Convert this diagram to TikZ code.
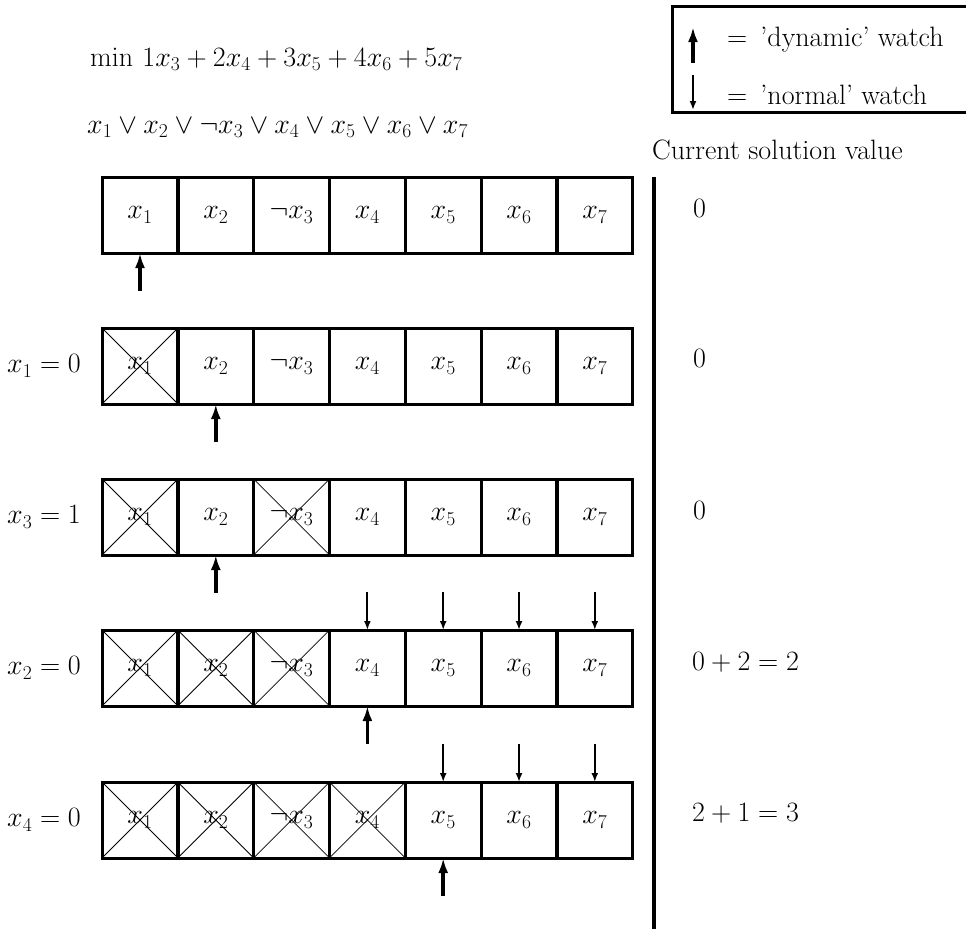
\RequirePackage{fix-cm}
\documentclass[tikz,border=0pt]{standalone}
\usetikzlibrary{arrows.meta}

% one row of seven literal cells; #1 row name, #2 top edge, #3-#9 cell styles
\newcommand\cellrow[9]{%
  \node[#3] (#1c1) at (102,#2) {$x_1$};
  \node[#4] (#1c2) at (177.8,#2) {$x_2$};
  \node[#5] (#1c3) at (253.6,#2) {$\neg x_3$};
  \node[#6] (#1c4) at (329.4,#2) {$x_4$};
  \node[#7] (#1c5) at (405.2,#2) {$x_5$};
  \node[#8] (#1c6) at (481,#2) {$x_6$};
  \node[#9] (#1c7) at (556.8,#2) {$x_7$};
}

\begin{document}
\begin{tikzpicture}[x=1pt,y=-1pt,
  every node/.style={font=\fontsize{28}{33}\selectfont, inner sep=0pt},
  cell/.style={draw, line width=3pt, outer sep=0pt, minimum width=76pt, minimum height=76pt, anchor=north west},
  crossed/.style={cell, path picture={
      \draw[line width=0.8pt]
        (path picture bounding box.north west) -- (path picture bounding box.south east)
        (path picture bounding box.north east) -- (path picture bounding box.south west);}},
  dyn/.style={line width=3.5pt, -{Latex[length=15pt,width=10pt]}},
  nrm/.style={line width=2pt, -{Latex[length=9pt,width=7pt]}},
  lbl/.style={anchor=east},
  val/.style={anchor=west},
]
\useasboundingbox (0,0) rectangle (966,929);

% objective and clause
\node[anchor=west] (obj) at (90,59) {$\min\, 1x_3 + 2x_4 + 3x_5 + 4x_6 + 5x_7$};
\node[anchor=west] (cl) at (87,128) {$x_1 \vee x_2 \vee \neg x_3 \vee x_4 \vee x_5 \vee x_6 \vee x_7$};

% legend
\node[draw, line width=3pt, outer sep=0pt, anchor=north west, minimum width=300pt, minimum height=106pt] (legend) at (672,6) {};
\coordinate (lu0) at (693,63);
\coordinate (lu1) at (693,27);
\coordinate (ld0) at (693,75);
\coordinate (ld1) at (693,110);
\draw[dyn] (lu0) -- (lu1);
\draw[nrm] (ld0) -- (ld1);
\node[anchor=west] (ldyn) at (727,40) {$=$ \,'dynamic' watch};
\node[anchor=west] (lnrm) at (727,95) {$=$ \,'normal' watch};

% solution value column
\node[anchor=west] (cur) at (652,150) {Current solution value};
\coordinate (vt) at (654,177);
\coordinate (vb) at (654,929);
\draw[line width=3.5pt] (vt) -- (vb);

% rows of cells
\cellrow{r1}{177}{cell}{cell}{cell}{cell}{cell}{cell}{cell}
\cellrow{r2}{328}{crossed}{cell}{cell}{cell}{cell}{cell}{cell}
\cellrow{r3}{479}{crossed}{cell}{crossed}{cell}{cell}{cell}{cell}
\cellrow{r4}{630}{crossed}{crossed}{crossed}{cell}{cell}{cell}{cell}
\cellrow{r5}{782}{crossed}{crossed}{crossed}{crossed}{cell}{cell}{cell}

% assignments
\node[lbl] (a2) at (81,366) {$x_1 = 0$};
\node[lbl] (a3) at (81,517) {$x_3 = 1$};
\node[lbl] (a4) at (81,668) {$x_2 = 0$};
\node[lbl] (a5) at (81,820) {$x_4 = 0$};

% current solution values
\node[val] (v1) at (693,208) {$0$};
\node[val] (v2) at (693,358) {$0$};
\node[val] (v3) at (693,510) {$0$};
\node[val] (v4) at (692,662) {$0 + 2 = 2$};
\node[val] (v5) at (692,813) {$2 + 1 = 3$};

% dynamic watches
\coordinate (d1) at ([yshift=-38pt]r1c1.south);
\coordinate (d2) at ([yshift=-38pt]r2c2.south);
\coordinate (d3) at ([yshift=-38pt]r3c2.south);
\coordinate (d4) at ([yshift=-38pt]r4c4.south);
\coordinate (d5) at ([yshift=-38pt]r5c5.south);
\draw[dyn] (d1) -- (r1c1.south);
\draw[dyn] (d2) -- (r2c2.south);
\draw[dyn] (d3) -- (r3c2.south);
\draw[dyn] (d4) -- (r4c4.south);
\draw[dyn] (d5) -- (r5c5.south);

% normal watches
\foreach \c in {4,5,6,7} {
  \coordinate (n4\c) at ([yshift=38pt]r4c\c.north);
  \draw[nrm] (n4\c) -- (r4c\c.north);
}
\foreach \c in {5,6,7} {
  \coordinate (n5\c) at ([yshift=38pt]r5c\c.north);
  \draw[nrm] (n5\c) -- (r5c\c.north);
}
\end{tikzpicture}
\end{document}
